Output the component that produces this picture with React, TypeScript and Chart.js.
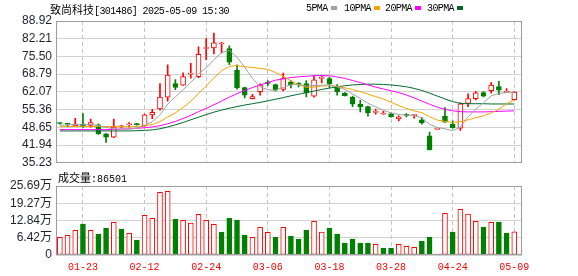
import React, { useEffect, useRef } from 'react';
import { Chart, registerables } from 'chart.js';

Chart.register(...registerables);

// ---------- data ----------
const stockName = '致尚科技';
const titleRest = '[301486] 2025-05-09 15:30';
const lastVolume = 86501;

const dates = [
  '01-20', '01-21', '01-22', '01-23', '01-24', '01-27', '02-05', '02-06', '02-07', '02-10',
  '02-11', '02-12', '02-13', '02-14', '02-17', '02-18', '02-19', '02-20', '02-21', '02-24',
  '02-25', '02-26', '02-27', '02-28', '03-03', '03-04', '03-05', '03-06', '03-07', '03-10',
  '03-11', '03-12', '03-13', '03-14', '03-17', '03-18', '03-19', '03-20', '03-21', '03-24',
  '03-25', '03-26', '03-27', '03-28', '03-31', '04-01', '04-02', '04-03', '04-07', '04-08',
  '04-23', '04-24', '04-25', '04-28', '04-29', '04-30', '05-06', '05-07', '05-08', '05-09',
];

const opens = [
  50.2, 50.1, 49.3, 49.9, 49.4, 49.6, 46.2, 44.9, 48.8, 49.6,
  49.9, 49.3, 53.4, 55.6, 60.1, 65.2, 64.6, 68.8, 67.8, 78.5,
  78.7, 80.2, 78.5, 70.2, 63.7, 59.5, 62.2, 65.4, 64.8, 63.0,
  65.9, 65.0, 65.2, 60.5, 67.2, 67.1, 64.2, 61.6, 60.0, 57.4,
  56.5, 54.3, 53.6, 53.8, 51.9, 53.3, 53.1, 51.5, 45.4, 47.9,
  52.8, 49.9, 48.3, 57.7, 59.5, 61.8, 62.5, 64.1, 61.9, 59.1,
];
const highs = [
  50.4, 50.2, 52.1, 53.9, 51.8, 50.0, 46.3, 51.8, 49.4, 50.5,
  50.2, 53.7, 55.5, 65.2, 72.3, 66.7, 69.3, 72.9, 79.1, 82.3,
  84.3, 80.8, 79.5, 72.3, 63.9, 61.2, 65.1, 66.4, 65.0, 69.2,
  66.4, 65.6, 66.4, 68.3, 68.1, 67.7, 64.8, 61.8, 60.5, 58.9,
  56.7, 55.6, 54.7, 54.1, 53.0, 53.9, 53.5, 52.4, 46.9, 47.9,
  56.1, 51.1, 58.0, 61.3, 62.3, 62.2, 65.6, 66.1, 63.3, 62.2,
];
const lows = [
  49.9, 48.8, 49.3, 48.6, 48.7, 46.0, 42.9, 44.7, 48.4, 48.7,
  49.5, 49.0, 51.9, 55.2, 58.6, 62.9, 64.5, 67.3, 67.5, 74.3,
  76.5, 76.8, 72.4, 63.1, 59.8, 59.4, 60.8, 64.4, 62.4, 62.4,
  63.6, 64.0, 60.2, 60.1, 65.5, 63.8, 60.8, 60.6, 56.5, 54.5,
  52.9, 53.6, 53.6, 52.5, 51.1, 52.6, 52.1, 49.9, 40.1, 47.9,
  50.5, 48.3, 47.5, 56.5, 59.0, 60.2, 61.6, 61.0, 61.9, 59.1,
];
const closes = [
  50.1, 49.9, 49.9, 48.9, 50.5, 46.3, 44.9, 48.8, 49.2, 49.9,
  49.7, 53.4, 54.3, 60.1, 68.4, 63.8, 67.9, 68.9, 76.3, 78.7,
  80.7, 80.4, 73.3, 63.6, 60.8, 60.3, 64.7, 65.3, 62.7, 67.3,
  64.8, 64.9, 61.7, 66.6, 67.4, 65.1, 62.1, 60.6, 57.4, 56.4,
  54.2, 54.4, 53.7, 52.6, 52.6, 53.2, 53.2, 50.4, 40.1, 47.9,
  50.6, 48.4, 57.6, 59.5, 61.7, 60.5, 64.7, 62.7, 62.0, 62.0,
];

const ma5 = [
  49.5, 49.6, 49.7, 49.6, 49.7, 49.3, 48.6, 48.1, 47.9, 48.0,
  48.4, 49.3, 50.8, 53.4, 57.4, 60.2, 62.9, 65.6, 68.9, 71.2,
  74.3, 76.9, 77.8, 75.2, 71.4, 67.2, 64.0, 62.9, 62.7, 63.8,
  64.8, 64.9, 64.3, 64.5, 64.6, 64.7, 64.0, 63.0, 61.3, 59.6,
  57.8, 56.4, 55.1, 54.1, 53.5, 53.3, 53.1, 52.3, 49.8, 48.6,
  48.1, 47.4, 48.8, 52.6, 55.5, 58.0, 60.6, 61.5, 61.8, 62.0,
];
const ma10 = [
  49.0, 49.0, 49.0, 49.0, 49.0, 49.0, 49.0, 48.9, 48.9, 48.9,
  49.0, 49.2, 49.7, 50.8, 52.6, 54.1, 56.2, 58.5, 61.4, 64.3,
  67.4, 70.1, 71.7, 72.1, 71.6, 71.3, 71.0, 70.6, 69.4, 68.0,
  66.2, 64.8, 63.8, 63.9, 64.3, 64.5, 64.1, 63.6, 63.0, 62.2,
  61.2, 60.3, 59.4, 58.2, 56.9, 55.8, 54.9, 54.2, 52.7, 51.4,
  50.9, 50.5, 50.8, 51.5, 52.3, 53.0, 54.1, 55.5, 57.6, 59.0,
];
const ma20 = [
  47.8, 47.8, 47.8, 47.8, 47.8, 47.8, 47.8, 47.9, 48.0, 48.1,
  48.3, 48.5, 48.8, 49.3, 50.0, 50.9, 52.0, 53.2, 54.6, 55.8,
  57.2, 58.6, 60.1, 61.4, 62.6, 63.7, 64.7, 65.6, 66.5, 67.0,
  67.5, 67.8, 68.0, 68.2, 68.3, 68.2, 67.7, 67.2, 66.4, 65.6,
  64.7, 63.9, 63.2, 62.5, 61.8, 60.9, 59.8, 58.6, 57.4, 56.3,
  55.5, 54.9, 54.6, 54.5, 54.5, 54.5, 54.6, 54.7, 54.8, 54.9,
];
const ma30 = [
  47.3, 47.3, 47.3, 47.3, 47.3, 47.3, 47.3, 47.3, 47.3, 47.3,
  47.4, 47.5, 47.7, 48.1, 48.8, 49.6, 50.5, 51.5, 52.5, 53.5,
  54.4, 55.2, 55.9, 56.5, 57.1, 57.6, 58.1, 58.7, 59.3, 59.9,
  60.6, 61.2, 61.8, 62.4, 63.0, 63.5, 64.0, 64.4, 64.7, 64.9,
  65.0, 65.0, 64.9, 64.7, 64.4, 64.0, 63.4, 62.6, 61.6, 60.5,
  59.4, 58.4, 57.7, 57.6, 57.6, 57.6, 57.5, 57.5, 57.5, 57.5,
];

const volumes = [
  65800, 73200, 91800, 115400, 91800, 78200, 100500, 121600, 96800, 80700,
  55800, 147700, 136500, 233300, 237000, 132800, 129000, 119100, 151400, 129000,
  114200, 85600, 136500, 130300, 74500, 65800, 103000, 84400, 67000, 103000,
  70700, 59600, 93100, 125300, 85600, 100500, 78200, 44700, 59600, 44700,
  44700, 39700, 26100, 26100, 39700, 32300, 28500, 52100, 67000, 2500,
  155000, 85600, 170000, 152600, 125300, 104200, 121600, 122900, 81900, 86501,
];
// 1 = volume day up (red), 0 = down (green)
const volumeUp = [
  1, 1, 1, 0, 1, 0, 0, 1, 0, 1,
  0, 1, 1, 1, 1, 0, 1, 1, 1, 1,
  1, 0, 0, 0, 0, 1, 1, 1, 0, 1,
  0, 0, 0, 1, 1, 0, 0, 0, 0, 0,
  0, 1, 0, 0, 1, 1, 1, 0, 0, 1,
  1, 0, 1, 1, 1, 0, 1, 0, 0, 1,
];

const xTickLabels = ['01-23', '02-12', '02-24', '03-06', '03-18', '03-28', '04-24', '05-09'];
const priceTicks = [35.23, 41.94, 48.65, 55.36, 62.07, 68.79, 75.5, 82.21, 88.92];
const volumeTicks = [0, 64200, 128400, 192700, 256900];
const volumeTickLabels = ['0', '6.42万', '12.84万', '19.27万', '25.69万'];

const maLegend = [
  { label: '5PMA', color: '#a0a0a0' },
  { label: '10PMA', color: '#f5a300' },
  { label: '20PMA', color: '#ff00ff' },
  { label: '30PMA', color: '#006b2d' },
];
const maSeries = [ma5, ma10, ma20, ma30];

// ---------- styles ----------
const RED = '#ff0000';
const GREEN = '#008000';
const W = 578;
const PLOT_LEFT = 56;
const PLOT_RIGHT_PAD = 56;
const legendX = [306, 344, 385, 427];
const MONO = '"Liberation Mono", "DejaVu Sans Mono", monospace';
const CJK = '"Noto Sans CJK SC", sans-serif';
const AXIS_FONT = { family: '"Liberation Sans", Arial, "Noto Sans CJK SC", sans-serif', size: 12 };

const xTickIndices = xTickLabels.map((l) => dates.indexOf(l));

const framePlugin = {
  id: 'frame',
  afterDraw(chart: any) {
    const { ctx, chartArea } = chart;
    const { left, top, right, bottom } = chartArea;
    ctx.save();
    ctx.strokeStyle = '#9c9c9c';
    ctx.lineWidth = 1;
    ctx.strokeRect(Math.round(left) + 0.5, Math.round(top) + 0.5, Math.round(right - left) - 1, Math.round(bottom - top) - 1);
    ctx.restore();
  },
};

function xScale(showLabels: boolean): any {
  return {
    type: 'linear',
    min: -0.5,
    max: dates.length,
    offset: false,
    afterBuildTicks: (s: any) => {
      s.ticks = xTickIndices.map((v) => ({ value: v }));
    },
    afterFit: (s: any) => {
      s.height = showLabels ? 21 : 0;
    },
    grid: { display: true, offset: false, color: '#c4c4c4', drawTicks: false, lineWidth: 1 },
    border: { display: false, dash: [4, 3] },
    ticks: {
      display: showLabels,
      autoSkip: false,
      maxRotation: 0,
      minRotation: 0,
      padding: 6,
      color: RED,
      font: { family: MONO, size: 10 },
      callback: (v: any) => dates[Math.round(Number(v))] ?? '',
    },
  };
}

export default function App() {
  const priceRef = useRef<HTMLCanvasElement | null>(null);
  const volRef = useRef<HTMLCanvasElement | null>(null);

  useEffect(() => {
    const idx = dates.map((_, i) => i);
    const up = idx.map((i) => closes[i] >= opens[i]);

    const priceChart = new Chart(priceRef.current as HTMLCanvasElement, {
      type: 'bar',
      data: {
        datasets: [
          ...maSeries.map((s, k) => ({
            type: 'line' as const,
            data: s.map((v, i) => ({ x: i, y: v })),
            borderColor: maLegend[k].color,
            borderWidth: 1,
            pointRadius: 0,
            tension: 0,
            fill: false,
            order: 1,
          })),
          {
            type: 'bar' as const,
            data: idx.map((i) => ({ x: i, y: [opens[i], closes[i]] })) as any,
            backgroundColor: idx.map((i) => (up[i] ? '#ffffff' : GREEN)),
            borderColor: idx.map((i) => (up[i] ? RED : GREEN)),
            borderWidth: 1,
            borderSkipped: false,
            barThickness: 5,
            minBarLength: 1,
            grouped: false,
            order: 2,
          },
          {
            type: 'bar' as const,
            data: idx.map((i) => ({ x: i, y: [lows[i], highs[i]] })) as any,
            backgroundColor: idx.map((i) => (up[i] ? RED : GREEN)),
            borderWidth: 0,
            barThickness: 1,
            grouped: false,
            order: 3,
          },
        ],
      },
      options: {
        animation: false,
        responsive: false,
        events: [],
        layout: { padding: { top: 21, right: PLOT_RIGHT_PAD, bottom: 9, left: 0 } },
        plugins: { legend: { display: false }, title: { display: false }, tooltip: { enabled: false } },
        scales: {
          x: xScale(false),
          y: {
            type: 'linear',
            position: 'left',
            min: priceTicks[0],
            max: priceTicks[priceTicks.length - 1],
            afterBuildTicks: (s: any) => {
              s.ticks = priceTicks.map((v) => ({ value: v }));
            },
            afterFit: (s: any) => {
              s.width = PLOT_LEFT;
            },
            grid: { color: '#d2d2d2', drawTicks: false, lineWidth: 1 },
            border: { display: false },
            ticks: {
              padding: 4,
              color: '#1f1f2f',
              font: AXIS_FONT,
              autoSkip: false,
              callback: (v: any) => Number(v).toFixed(2),
            },
          },
        },
      } as any,
      plugins: [framePlugin],
    });

    const volChart = new Chart(volRef.current as HTMLCanvasElement, {
      type: 'bar',
      data: {
        datasets: [
          {
            data: idx.map((i) => ({ x: i, y: volumes[i] })) as any,
            backgroundColor: idx.map((i) => (volumeUp[i] ? '#ffffff' : GREEN)),
            borderColor: idx.map((i) => (volumeUp[i] ? RED : GREEN)),
            borderWidth: 1,
            borderSkipped: false,
            barThickness: 5,
            minBarLength: 1,
            grouped: false,
          },
        ],
      },
      options: {
        animation: false,
        responsive: false,
        events: [],
        layout: { padding: { top: 16, right: PLOT_RIGHT_PAD, bottom: 0, left: 0 } },
        plugins: { legend: { display: false }, title: { display: false }, tooltip: { enabled: false } },
        scales: {
          x: xScale(true),
          y: {
            type: 'linear',
            position: 'left',
            min: volumeTicks[0],
            max: volumeTicks[volumeTicks.length - 1],
            afterBuildTicks: (s: any) => {
              s.ticks = volumeTicks.map((v) => ({ value: v }));
            },
            afterFit: (s: any) => {
              s.width = PLOT_LEFT;
            },
            grid: { color: '#d2d2d2', drawTicks: false, lineWidth: 1 },
            border: { display: false },
            ticks: {
              padding: 4,
              color: '#1f1f2f',
              font: AXIS_FONT,
              autoSkip: false,
              callback: (_v: any, i: number) => volumeTickLabels[i],
            },
          },
        },
      } as any,
      plugins: [framePlugin],
    });

    return () => {
      priceChart.destroy();
      volChart.destroy();
    };
  }, []);

  return (
    <div style={{ position: 'fixed', left: 0, top: 0, width: W, height: 276, background: '#fff', overflow: 'hidden' }}>
      <canvas ref={priceRef} width={W} height={174} style={{ position: 'absolute', left: 0, top: 0 }} />
      <canvas ref={volRef} width={W} height={106} style={{ position: 'absolute', left: 0, top: 170 }} />
      <div style={{ position: 'absolute', left: 50, top: 1, height: 16, lineHeight: '16px', whiteSpace: 'nowrap', color: '#000' }}>
        <span style={{ fontFamily: CJK, fontSize: 11 }}>{stockName}</span>
        <span style={{ fontFamily: MONO, fontSize: 10, letterSpacing: -0.6 }}>{titleRest}</span>
      </div>
      {maLegend.map((m, k) => (
        <div
          key={m.label}
          style={{ position: 'absolute', left: legendX[k], top: 1, height: 16, lineHeight: '16px', whiteSpace: 'nowrap', color: '#000', fontFamily: MONO, fontSize: 10, letterSpacing: -0.6 }}
        >
          {m.label}
          <span style={{ display: 'inline-block', width: 6, height: 4, marginLeft: 3, background: m.color, verticalAlign: 'middle' }} />
        </div>
      ))}
      <div style={{ position: 'absolute', left: 58, top: 170, height: 14, lineHeight: '14px', whiteSpace: 'nowrap', color: '#000' }}>
        <span style={{ fontFamily: CJK, fontSize: 11 }}>成交量</span>
        <span style={{ fontFamily: MONO, fontSize: 10 }}>:{lastVolume}</span>
      </div>
    </div>
  );
}
